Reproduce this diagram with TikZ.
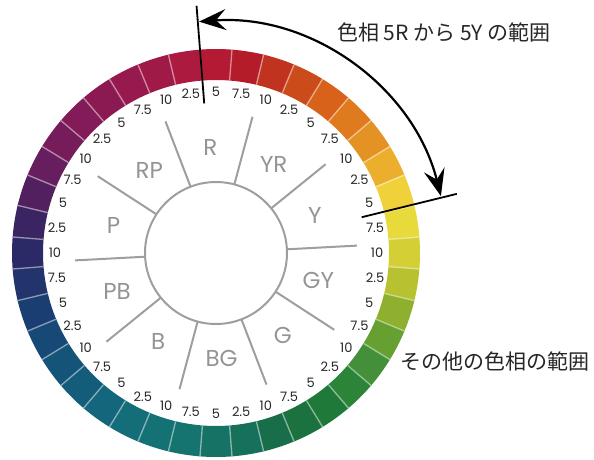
\documentclass[tikz,border=0pt]{standalone}
\usepackage{fontspec}
\setmainfont{Poppins}
\newfontfamily\jpfont{Noto Sans CJK JP}
\usetikzlibrary{arrows.meta}

\begin{document}
\begin{tikzpicture}[
  x=1pt, y=1pt,
  divider/.style={draw=white, draw opacity=0.5, line width=1.3pt},
  spoke/.style={draw=black!38, line width=2pt},
  hue/.style={text=black!42, font=\fontsize{23}{26}\selectfont, inner sep=0pt},
  tick/.style={text=black!85, font=\fontsize{13}{15}\selectfont, inner sep=0pt},
  bound/.style={draw=black, line width=1.8pt},
  rangearrow/.style={{Stealth[length=27pt,width=21pt,inset=10pt]}-{Stealth[length=27pt,width=21pt,inset=10pt]}, line width=2.2pt},
  caption/.style={text=black!85, font=\jpfont\fontsize{21}{24}\selectfont, inner sep=0pt}]

\useasboundingbox (-216,-206) rectangle (378,253);

% Colour ring, 40 steps clockwise from 2.5R
\foreach \c [count=\i from 0] in {AC1A40,B41A34,B31C28,BF331F,CC4B1A,D8621A,E07A1E,E59225,EBAE2D,F0D13A,
    E8DA3A,D4CF35,B8C230,8EB02E,66A030,44903A,2B8438,1F7A3A,1B723E,186E48,
    17705A,167264,15746E,147274,136E7A,13667C,135D7B,145479,164975,1A3E72,
    23336C,2B2A66,3A2562,52205F,661E5E,761C5B,821B57,8C1A52,961A4D,A01A48} {
  \pgfmathsetmacro{\a}{99-9*\i}
  \definecolor{seg}{HTML}{\c}
  \fill[seg] ({\a-4.6}:173) arc[start angle=\a-4.6, end angle=\a+4.6, radius=173]
    -- ({\a+4.6}:204) arc[start angle=\a+4.6, end angle=\a-4.6, radius=204] -- cycle;
}
\foreach \i in {0,...,39}
  \draw[divider] ({94.5-9*\i}:173) -- ({94.5-9*\i}:204);

% Step numbers
\foreach \h in {0,...,9}
  \foreach \v [count=\j from 0] in {2.5,5,7.5,10}
    \node[tick] (t\h-\j) at ({99-36*\h-9*\j}:161) {\v};

% Hub and spokes
\node[spoke, draw, circle, minimum size=142pt, inner sep=0pt, outer sep=0pt] (hub) at (0,0) {};
\foreach \h in {0,...,9}
  \draw[spoke] (hub.{75-36*\h}) -- ({75-36*\h}:141);
\foreach \n [count=\h from 0] in {R,YR,Y,GY,G,BG,B,PB,P,RP}
  \node[hue] (\n) at ({93-36*\h}:106) {\n};

% Range 5R to 5Y
\coordinate (rIn) at (94.5:150);
\coordinate (rOut) at (94.5:248);
\coordinate (yIn) at (13.8:150);
\coordinate (yOut) at (13.8:248);
\draw[bound] (rIn) -- (rOut);
\draw[bound] (yIn) -- (yOut);
\draw[rangearrow] (94.2:232) arc[start angle=94.2, end angle=14.2, radius=232];

\node[caption] (rangeText) at (228,221) {色相 5R から 5Y の範囲};
\node[caption] (otherText) at (279,-108) {その他の色相の範囲};
\end{tikzpicture}
\end{document}
